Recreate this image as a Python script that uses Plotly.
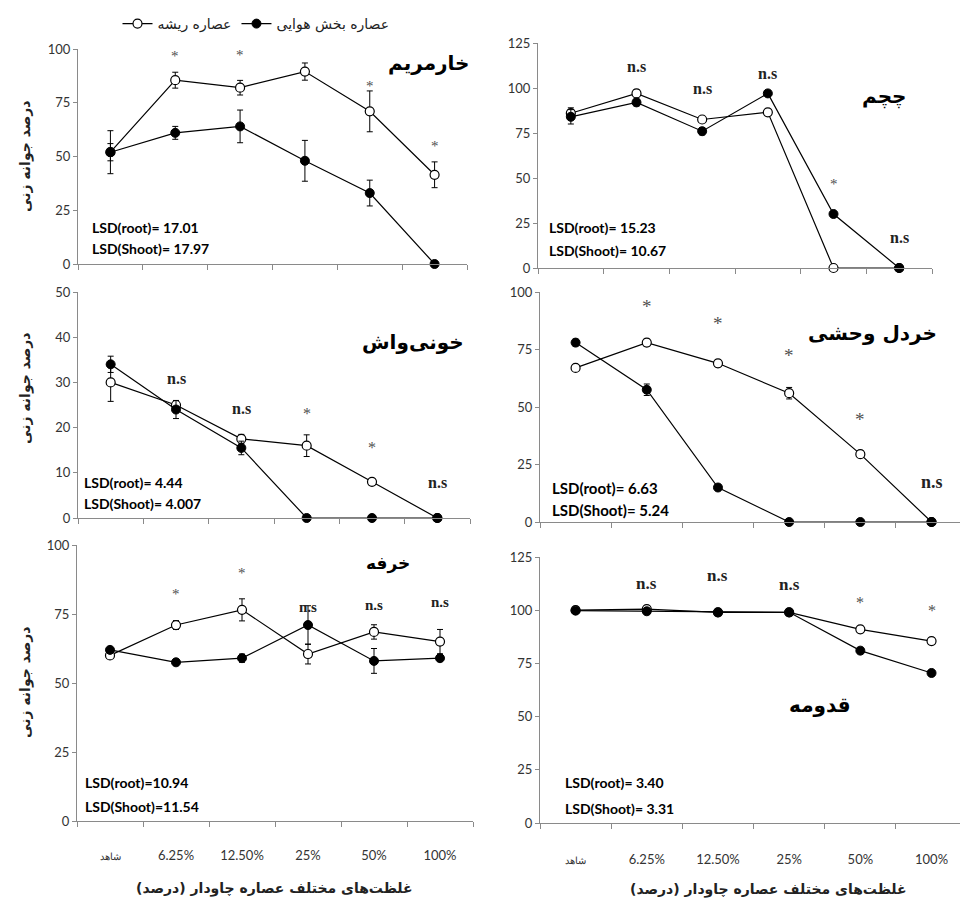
import plotly.graph_objects as go

W, H = 960, 898

categories = ["شاهد", "6.25%", "12.50%", "25%", "50%", "100%"]
legend_root = "عصاره ریشه"
legend_shoot = "عصاره بخش هوایی"
y_title = "درصد جوانه زنی"
x_title = "غلظت‌های مختلف عصاره چاودار (درصد)"

# خارمریم
kharmaryam_root = [52, 85.5, 82, 89.5, 71, 41.5]
kharmaryam_root_err = [10, 3.7, 3.4, 4, 9.5, 6]
kharmaryam_shoot = [52, 61, 64, 48, 33, 0]
kharmaryam_shoot_err = [4, 3, 7.6, 9.5, 6, 0]
kharmaryam_sig = ["", "*", "*", "*", "*", "*"]
kharmaryam_lsd = ["LSD(root)= 17.01", "LSD(Shoot)= 17.97"]

# چچم
chacham_root = [86, 97, 82.5, 86.5, 0, 0]
chacham_root_err = [3, 2, 1.5, 1.5, 0, 0]
chacham_shoot = [84, 92, 76, 97, 30, 0]
chacham_shoot_err = [4, 2, 2, 1.5, 0, 0]
chacham_sig = ["", "n.s", "n.s", "n.s", "*", "n.s"]
chacham_lsd = ["LSD(root)= 15.23", "LSD(Shoot)= 10.67"]

# خونی‌واش
khooniwash_root = [30, 25, 17.5, 16, 8, 0]
khooniwash_root_err = [4.2, 1, 1, 2.4, 0.5, 0]
khooniwash_shoot = [34, 24, 15.5, 0, 0, 0]
khooniwash_shoot_err = [1.8, 2, 1.5, 0, 0, 0]
khooniwash_sig = ["", "n.s", "n.s", "*", "*", "n.s"]
khooniwash_lsd = ["LSD(root)= 4.44", "LSD(Shoot)= 4.007"]

# خردل وحشی
khardal_root = [67, 78, 69, 56, 29.5, 0]
khardal_root_err = [1, 1.5, 1.5, 2.5, 1.5, 0]
khardal_shoot = [78, 57.5, 15, 0, 0, 0]
khardal_shoot_err = [1.5, 2.5, 0.5, 0, 0, 0]
khardal_sig = ["", "*", "*", "*", "*", "n.s"]
khardal_lsd = ["LSD(root)= 6.63", "LSD(Shoot)= 5.24"]

# خرفه
khorfeh_root = [60, 71, 76.5, 60.5, 68.5, 65]
khorfeh_root_err = [0.5, 1.6, 4, 3.6, 2.6, 4.4]
khorfeh_shoot = [62, 57.5, 59, 71, 58, 59]
khorfeh_shoot_err = [0.5, 0.5, 1.5, 7, 4.5, 1]
khorfeh_sig = ["", "*", "*", "n.s", "n.s", "n.s"]
khorfeh_lsd = ["LSD(root)=10.94", "LSD(Shoot)=11.54"]

# قدومه
ghodoumeh_root = [100, 100.5, 99, 99, 91, 85.5]
ghodoumeh_root_err = [0.5, 0.5, 0.5, 0.5, 1.5, 1.5]
ghodoumeh_shoot = [99.8, 99.5, 99, 99, 81, 70.5]
ghodoumeh_shoot_err = [0.5, 0.5, 0.5, 0.5, 1.5, 1]
ghodoumeh_sig = ["", "n.s", "n.s", "n.s", "*", "*"]
ghodoumeh_lsd = ["LSD(root)= 3.40", "LSD(Shoot)= 3.31"]

# ---------------- layout config (positions & styles) ----------------
AR = "DejaVu Sans"
NUM = "Lato"
SERIF = "Liberation Serif"

panels = [
    dict(name="خارمریم", root=kharmaryam_root, rerr=kharmaryam_root_err,
         shoot=kharmaryam_shoot, serr=kharmaryam_shoot_err, sig=kharmaryam_sig, lsd=kharmaryam_lsd,
         px=(78, 467), py=(49, 264), yr=(0, 100), dt=25, xr=(-0.5, 5.5),
         title_pos=(428, 63), title_size=20, sig_y=[None, 96.7, 97.2, 100.3, 82.8, 55.1],
         star_size=15, ns_size=16,
         lsd_pos=(90, 228, 249), lsd_size=14, bottom=False, ytitle=(25, 156)),
    dict(name="چچم", root=chacham_root, rerr=chacham_root_err,
         shoot=chacham_shoot, serr=chacham_shoot_err, sig=chacham_sig, lsd=chacham_lsd,
         px=(538, 932), py=(43, 268), yr=(0, 125), dt=25, xr=(-0.5, 5.5),
         title_pos=(884, 97), title_size=20, sig_y=[None, 112, 100, 108, 46.8, 16.8],
         star_size=15, ns_size=16,
         lsd_pos=(547, 228, 251), lsd_size=14, bottom=False, ytitle=None),
    dict(name="خونی‌واش", root=khooniwash_root, rerr=khooniwash_root_err,
         shoot=khooniwash_shoot, serr=khooniwash_shoot_err, sig=khooniwash_sig, lsd=khooniwash_lsd,
         px=(78, 470), py=(292, 518), yr=(0, 50), dt=10, xr=(-0.5, 5.5),
         title_pos=(413, 342), title_size=20, sig_y=[None, 30.8, 24.3, 23.1, 15.7, 7.8],
         star_size=16, ns_size=16,
         lsd_pos=(82, 482, 503), lsd_size=14, bottom=False, ytitle=(25, 388)),
    dict(name="خردل وحشی", root=khardal_root, rerr=khardal_root_err,
         shoot=khardal_shoot, serr=khardal_shoot_err, sig=khardal_sig, lsd=khardal_lsd,
         px=(540, 960), py=(292, 522), yr=(0, 100), dt=25, xr=(-0.5, 5.4),
         title_pos=(872, 333), title_size=20, sig_y=[None, 93.5, 86.3, 72.5, 44.7, 17.2],
         star_size=19, ns_size=18,
         lsd_pos=(550, 488, 510), lsd_size=15, bottom=False, ytitle=None),
    dict(name="خرفه", root=khorfeh_root, rerr=khorfeh_root_err,
         shoot=khorfeh_shoot, serr=khorfeh_shoot_err, sig=khorfeh_sig, lsd=khorfeh_lsd,
         px=(77, 473), py=(545, 821), yr=(0, 100), dt=25, xr=(-0.5, 5.5),
         title_pos=(388, 563), title_size=17, sig_y=[None, 82.1, 89.7, 77.7, 78.3, 79.3],
         star_size=15, ns_size=15,
         lsd_pos=(83, 782, 806), lsd_size=14, bottom=True, ytitle=(25, 682),
         xtitle=(274, 888), tick_standoff=22),
    dict(name="قدومه", root=ghodoumeh_root, rerr=ghodoumeh_root_err,
         shoot=ghodoumeh_shoot, serr=ghodoumeh_shoot_err, sig=ghodoumeh_sig, lsd=ghodoumeh_lsd,
         px=(540, 960), py=(557, 823), yr=(0, 125), dt=25, xr=(-0.5, 5.4),
         title_pos=(820, 705), title_size=20, sig_y=[None, 112.5, 116.2, 112, 103.4, 99.8],
         star_size=16, ns_size=17,
         lsd_pos=(563, 782, 808), lsd_size=14, bottom=True, ytitle=None,
         xtitle=(768, 889), tick_standoff=24),
]


def fx(px):
    return px / W


def fy(py):
    return 1 - py / H


fig = go.Figure()
annotations = []
AX = "#8a8a8a"

for i, p in enumerate(panels):
    n = i + 1
    xa = "x" if n == 1 else f"x{n}"
    ya = "y" if n == 1 else f"y{n}"
    xkey = "xaxis" if n == 1 else f"xaxis{n}"
    ykey = "yaxis" if n == 1 else f"yaxis{n}"

    fig.add_trace(go.Scatter(
        x=categories, y=p["root"], xaxis=xa, yaxis=ya, mode="lines+markers",
        name=legend_root, showlegend=(n == 1), cliponaxis=False,
        line=dict(color="black", width=1.2),
        marker=dict(symbol="circle", size=9, color="white", line=dict(color="black", width=1.2)),
        error_y=dict(type="data", array=p["rerr"], color="black", thickness=1, width=3),
    ))
    fig.add_trace(go.Scatter(
        x=categories, y=p["shoot"], xaxis=xa, yaxis=ya, mode="lines+markers",
        name=legend_shoot, showlegend=(n == 1), cliponaxis=False,
        line=dict(color="black", width=1.2),
        marker=dict(symbol="circle", size=9, color="black", line=dict(color="black", width=1)),
        error_y=dict(type="data", array=p["serr"], color="black", thickness=1, width=3),
    ))

    if p["bottom"]:
        ticktext = ["<span style='font-size:10px'>%s</span>" % categories[0]] + categories[1:]
    else:
        ticktext = categories

    xdict = dict(domain=[fx(p["px"][0]), fx(p["px"][1])], anchor=ya, type="category",
                 range=list(p["xr"]), tickson="boundaries", ticks="outside", ticklen=5,
                 tickcolor=AX, showline=True, linecolor=AX, linewidth=1, showgrid=False,
                 zeroline=False, showticklabels=p["bottom"],
                 tickmode="array", tickvals=categories, ticktext=ticktext,
                 tickfont=dict(family=NUM, size=13, color="#333333"))
    if p.get("tick_standoff"):
        xdict["ticklabelstandoff"] = p["tick_standoff"]

    fig.update_layout(**{
        xkey: xdict,
        ykey: dict(domain=[fy(p["py"][1]), fy(p["py"][0])], anchor=xa, range=list(p["yr"]),
                   dtick=p["dt"], tick0=0, ticks="outside", ticklen=4, tickcolor=AX,
                   showline=True, linecolor=AX, linewidth=1, showgrid=False, zeroline=False,
                   tickfont=dict(family=NUM, size=13, color="#333333")),
    })

    # species title
    annotations.append(dict(text="<b>%s</b>" % p["name"], xref="paper", yref="paper",
                            x=fx(p["title_pos"][0]), y=fy(p["title_pos"][1]),
                            xanchor="center", yanchor="middle", showarrow=False,
                            font=dict(family=AR, size=p["title_size"], color="black")))
    # significance labels
    for k, s in enumerate(p["sig"]):
        if not s:
            continue
        if s == "*":
            annotations.append(dict(text=s, xref=xa, yref=ya, x=k, y=p["sig_y"][k],
                                    xanchor="center", yanchor="middle", showarrow=False,
                                    font=dict(family=SERIF, size=p["star_size"], color="#505050")))
        else:
            annotations.append(dict(text="<b>%s</b>" % s, xref=xa, yref=ya, x=k, y=p["sig_y"][k],
                                    xanchor="center", yanchor="middle", showarrow=False,
                                    font=dict(family=SERIF, size=p["ns_size"], color="#222222")))
    # LSD text
    lx, ly1, ly2 = p["lsd_pos"]
    for txt, ly in zip(p["lsd"], (ly1, ly2)):
        annotations.append(dict(text="<b>%s</b>" % txt, xref="paper", yref="paper",
                                x=fx(lx), y=fy(ly), xanchor="left", yanchor="middle",
                                showarrow=False,
                                font=dict(family=NUM, size=p["lsd_size"], color="black")))
    # y title
    if p["ytitle"]:
        annotations.append(dict(text="<b>%s</b>" % y_title, xref="paper", yref="paper",
                                x=fx(p["ytitle"][0]), y=fy(p["ytitle"][1]), textangle=-90,
                                xanchor="center", yanchor="middle", showarrow=False,
                                font=dict(family=AR, size=14, color="#222222")))
    # x title
    if p.get("xtitle"):
        annotations.append(dict(text="<b>%s</b>" % x_title, xref="paper", yref="paper",
                                x=fx(p["xtitle"][0]), y=fy(p["xtitle"][1]),
                                xanchor="center", yanchor="middle", showarrow=False,
                                font=dict(family=AR, size=14, color="#222222")))

fig.update_layout(
    width=W, height=H, margin=dict(l=0, r=0, t=0, b=0, autoexpand=False),
    paper_bgcolor="white", plot_bgcolor="white",
    showlegend=True,
    legend=dict(orientation="h", x=fx(256), y=fy(24), xanchor="center", yanchor="middle",
                font=dict(family=AR, size=14, color="#222222"), itemwidth=30,
                bgcolor="rgba(0,0,0,0)", tracegroupgap=0),
    annotations=annotations,
)

fig.write_html("out.html", config={"responsive": False, "displayModeBar": False},
               post_script="document.body.style.margin='0';document.body.style.padding='0';"
                           "document.body.style.overflow='hidden';")
